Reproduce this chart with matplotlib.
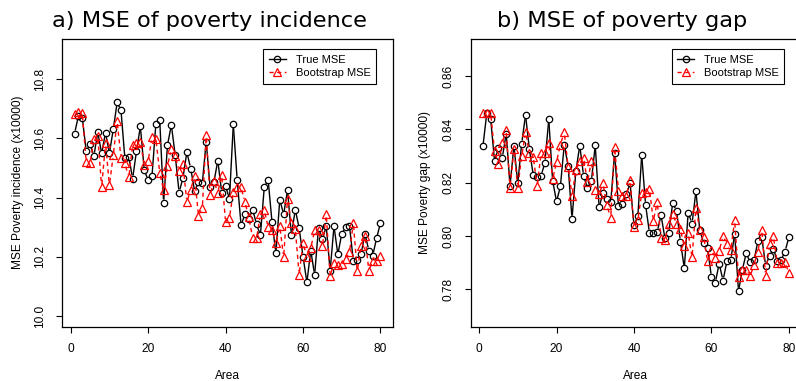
import numpy as np
import matplotlib
matplotlib.use("Agg")
import matplotlib.pyplot as plt
from matplotlib.collections import LineCollection
from matplotlib.lines import Line2D

area = np.arange(1, 81)

# poverty incidence (x10000)
true_inc = [
    10.616, 10.675, 10.670, 10.558, 10.580, 10.541, 10.620, 10.549, 10.619, 10.549,
    10.630, 10.721, 10.694, 10.532, 10.538, 10.464, 10.557, 10.640, 10.493, 10.459,
    10.472, 10.649, 10.662, 10.383, 10.577, 10.645, 10.543, 10.417, 10.467, 10.553,
    10.498, 10.422, 10.451, 10.449, 10.589, 10.435, 10.453, 10.525, 10.417, 10.440,
    10.395, 10.647, 10.460, 10.307, 10.343, 10.328, 10.359, 10.310, 10.273, 10.436,
    10.459, 10.316, 10.213, 10.393, 10.343, 10.425, 10.274, 10.359, 10.297, 10.201,
    10.114, 10.221, 10.139, 10.298, 10.259, 10.303, 10.153, 10.303, 10.208, 10.278,
    10.300, 10.303, 10.187, 10.190, 10.210, 10.278, 10.221, 10.204, 10.263, 10.314]
boot_inc = [
    10.682, 10.688, 10.685, 10.521, 10.515, 10.597, 10.609, 10.435, 10.583, 10.442,
    10.543, 10.659, 10.532, 10.515, 10.468, 10.577, 10.583, 10.589, 10.510, 10.523,
    10.603, 10.598, 10.484, 10.425, 10.508, 10.563, 10.541, 10.490, 10.513, 10.385,
    10.427, 10.473, 10.338, 10.366, 10.611, 10.408, 10.456, 10.417, 10.476, 10.317,
    10.332, 10.419, 10.436, 10.435, 10.385, 10.333, 10.264, 10.262, 10.343, 10.357,
    10.300, 10.291, 10.246, 10.303, 10.199, 10.396, 10.314, 10.295, 10.140, 10.246,
    10.201, 10.230, 10.289, 10.289, 10.235, 10.343, 10.136, 10.178, 10.173, 10.174,
    10.193, 10.216, 10.315, 10.151, 10.238, 10.271, 10.153, 10.187, 10.187, 10.204]

# poverty gap (x10000)
true_gap = [
    0.8337, 0.8462, 0.8438, 0.8281, 0.8331, 0.8294, 0.8384, 0.8189, 0.8339, 0.8199,
    0.8347, 0.8454, 0.8325, 0.8228, 0.8222, 0.8226, 0.8275, 0.8438, 0.8207, 0.8130,
    0.8186, 0.8343, 0.8263, 0.8065, 0.8244, 0.8339, 0.8226, 0.8179, 0.8207, 0.8340,
    0.8109, 0.8161, 0.8139, 0.8127, 0.8312, 0.8111, 0.8121, 0.8156, 0.8198, 0.8041,
    0.8074, 0.8304, 0.8117, 0.8012, 0.8012, 0.8016, 0.8078, 0.7991, 0.8012, 0.8124,
    0.8094, 0.7979, 0.7880, 0.8088, 0.8047, 0.8168, 0.8022, 0.7975, 0.7954, 0.7847,
    0.7825, 0.7897, 0.7833, 0.7906, 0.7911, 0.8008, 0.7794, 0.7874, 0.7936, 0.7901,
    0.7909, 0.7981, 0.7995, 0.7889, 0.7926, 0.7952, 0.7907, 0.7911, 0.7942, 0.7995]
boot_gap = [
    0.8463, 0.8463, 0.8460, 0.8318, 0.8269, 0.8349, 0.8399, 0.8179, 0.8325, 0.8181,
    0.8300, 0.8389, 0.8312, 0.8297, 0.8186, 0.8310, 0.8312, 0.8349, 0.8213, 0.8278,
    0.8343, 0.8389, 0.8260, 0.8152, 0.8248, 0.8281, 0.8294, 0.8201, 0.8282, 0.8173,
    0.8158, 0.8198, 0.8115, 0.8069, 0.8333, 0.8170, 0.8152, 0.8152, 0.8210, 0.8035,
    0.8062, 0.8160, 0.8164, 0.8176, 0.8057, 0.8127, 0.7991, 0.7985, 0.8047, 0.8082,
    0.8047, 0.8025, 0.7961, 0.8010, 0.7920, 0.8107, 0.8024, 0.7998, 0.7905, 0.7948,
    0.7917, 0.7944, 0.8001, 0.7970, 0.7948, 0.8059, 0.7847, 0.7874, 0.7874, 0.7849,
    0.7893, 0.7942, 0.8024, 0.7852, 0.7969, 0.7999, 0.7899, 0.7899, 0.7901, 0.7862]

W, H = 796, 381
fig = plt.figure(figsize=(W / 100, H / 100), dpi=100)
plt.rcParams['font.family'] = ['Liberation Sans', 'DejaVu Sans']


def px_axes(x0, y0, x1, y1):
    return fig.add_axes([x0 / W, 1 - y1 / H, (x1 - x0) / W, (y1 - y0) / H])


def r_lim(lo, hi):
    pad = 0.04 * (hi - lo)
    return lo - pad, hi + pad


def gapped_line(ax, x, y, color, ls, gap=3.2):
    # lines that stop short of each point, like R's type="b"
    pts = ax.transData.transform(np.column_stack([x, y]))
    segs = []
    for p0, p1 in zip(pts[:-1], pts[1:]):
        d = p1 - p0
        L = np.hypot(*d)
        if L <= 2 * gap:
            continue
        u = d / L
        segs.append(ax.transData.inverted().transform([p0 + u * gap, p1 - u * gap]))
    ax.add_collection(LineCollection(segs, colors=color, linestyles=ls, linewidths=1.0))


def panel(ax, true_v, boot_v, ylim, yticks, ylabels, title, tx, ylab, ylab_x):
    ax.set_xlim(*r_lim(1, 80))
    ax.set_ylim(*r_lim(*ylim))
    gapped_line(ax, area, true_v, 'black', 'solid')
    ax.plot(area, true_v, 'o', mfc='none', mec='black', ms=4.6, mew=0.9)
    gapped_line(ax, area, boot_v, 'red', (0, (3, 2.5)))
    ax.plot(area, boot_v, '^', mfc='none', mec='red', ms=5.6, mew=0.9)
    ax.set_xticks([0, 20, 40, 60, 80])
    ax.set_yticks(yticks)
    ax.set_yticklabels(ylabels, rotation=90, va='center')
    ax.tick_params(length=4.3, width=0.8, pad=7.2, labelsize=8.6)
    for s in ax.spines.values():
        s.set_linewidth(0.9)
    handles = [
        Line2D([], [], color='black', marker='o', mfc='none', ms=4.6, mew=0.9, lw=1.0),
        Line2D([], [], color='red', ls=(0, (3, 2.5)), marker='^', mfc='none', ms=5.6,
               mew=0.9, lw=1.0),
    ]
    leg = ax.legend(handles, ['True MSE', 'Bootstrap MSE'], loc='upper right',
                    bbox_to_anchor=(0.9495, 0.9635), borderaxespad=0, fontsize=8.0,
                    fancybox=False, framealpha=1, edgecolor='black',
                    handlelength=1.5, handletextpad=0.9, borderpad=0.5,
                    labelspacing=0.3)
    leg.get_frame().set_linewidth(0.8)
    fig.text(tx / W, 1 - 26.7 / H, title, fontsize=16.2, family='DejaVu Sans',
             ha='center', va='baseline')
    fig.text(ylab_x / W, 1 - 182.7 / H, ylab, rotation=90, fontsize=8.6,
             ha='center', va='center')
    fig.text((ax.get_position().x0 * W + 165.2) / W, 1 - 376 / H, 'Area', fontsize=8.6,
             ha='center', va='center')


ax1 = px_axes(62.3, 38.8, 392.7, 326.7)
panel(ax1, true_inc, boot_inc, (10.0, 10.9), [10.0, 10.2, 10.4, 10.6, 10.8],
      ['10.0', '10.2', '10.4', '10.6', '10.8'], 'a) MSE of poverty incidence', 210,
      'MSE Poverty incidence (x10000)', 18.3)

ax2 = px_axes(470.7, 38.8, 801.1, 326.7)
panel(ax2, true_gap, boot_gap, (0.77, 0.87), [0.78, 0.80, 0.82, 0.84, 0.86],
      ['0.78', '0.80', '0.82', '0.84', '0.86'], 'b) MSE of poverty gap', 621.7,
      'MSE Poverty gap (x10000)', 425)

fig.savefig('out.png', dpi=100)
